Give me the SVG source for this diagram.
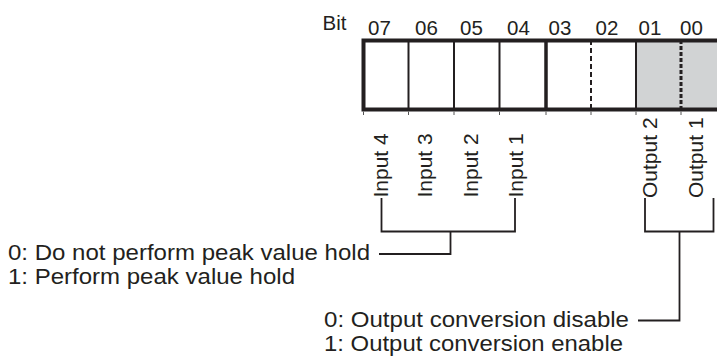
<svg xmlns="http://www.w3.org/2000/svg" width="717" height="358" viewBox="0 0 717 358">
<style>
text{font-family:"Liberation Sans",Arial,Helvetica,sans-serif;fill:#231f20}
.bit{font-size:20.5px;text-anchor:middle}
.lbl{font-size:20.5px}
.rot{font-size:21px}
.desc{font-size:21.5px}
.ln{fill:none;stroke:#231f20;stroke-width:1.8}
.div{stroke:#231f20;stroke-width:2}
.tick{stroke:#555;stroke-width:1}
</style>
<rect width="717" height="358" fill="#fff"/>
<g id="register">
<rect x="636" y="40.5" width="100" height="69" fill="#d1d3d4"/>
<line class="div" x1="408.5" y1="40" x2="408.5" y2="110"/>
<line class="div" x1="454" y1="40" x2="454" y2="110"/>
<line class="div" x1="499.5" y1="40" x2="499.5" y2="110"/>
<line class="div" x1="546" y1="40" x2="546" y2="110" style="stroke-width:3.5"/>
<line class="div" x1="591" y1="40" x2="591" y2="110" style="stroke-dasharray:5 3"/>
<line class="div" x1="636" y1="40" x2="636" y2="110"/>
<line class="div" x1="681" y1="40" x2="681" y2="110" style="stroke-width:3;stroke-dasharray:4 2"/>
<rect x="363.5" y="40.5" width="380" height="69" fill="none" stroke="#231f20" stroke-width="4"/>
<g class="tick">
<line x1="363.5" y1="111.5" x2="363.5" y2="115"/>
<line x1="408.5" y1="111.5" x2="408.5" y2="115"/>
<line x1="454" y1="111.5" x2="454" y2="115"/>
<line x1="499.5" y1="111.5" x2="499.5" y2="115"/>
<line x1="546" y1="111.5" x2="546" y2="115"/>
<line x1="591" y1="111.5" x2="591" y2="115"/>
<line x1="636" y1="111.5" x2="636" y2="115"/>
<line x1="681" y1="111.5" x2="681" y2="115"/>
</g>
</g>
<g id="bit-labels">
<text x="322.5" y="29.5" class="lbl">Bit</text>
<text x="379.5" y="34.5" class="bit">07</text>
<text x="426.5" y="34.5" class="bit">06</text>
<text x="471.5" y="34.5" class="bit">05</text>
<text x="518.5" y="34.5" class="bit">04</text>
<text x="560" y="34.5" class="bit">03</text>
<text x="607" y="34.5" class="bit">02</text>
<text x="650" y="34.5" class="bit">01</text>
<text x="691.5" y="34.5" class="bit">00</text>
</g>
<g id="input-labels">
<text class="rot" transform="translate(387.5,197.5) rotate(-90)">Input 4</text>
<text class="rot" transform="translate(432,197.5) rotate(-90)">Input 3</text>
<text class="rot" transform="translate(477.5,197.5) rotate(-90)">Input 2</text>
<text class="rot" transform="translate(522.5,197.5) rotate(-90)">Input 1</text>
</g>
<g id="output-labels">
<text class="rot" transform="translate(657,198) rotate(-90)">Output 2</text>
<text class="rot" transform="translate(702.5,198) rotate(-90)">Output 1</text>
</g>
<g id="connectors">
<path class="ln" d="M381.5,198 V231.5 H515 V198 M450.5,231.5 V254 H379"/>
<path class="ln" d="M645,198 V231.5 H713.5 V198 M679.5,231.5 V320.5 H638"/>
</g>
<g id="peak-hold-note">
<text x="8" y="260" class="desc" textLength="362" lengthAdjust="spacingAndGlyphs">0: Do not perform peak value hold</text>
<text x="8" y="284" class="desc" textLength="287" lengthAdjust="spacingAndGlyphs">1: Perform peak value hold</text>
</g>
<g id="output-conversion-note">
<text x="324" y="327" class="desc" textLength="305" lengthAdjust="spacingAndGlyphs">0: Output conversion disable</text>
<text x="324" y="351" class="desc" textLength="299" lengthAdjust="spacingAndGlyphs">1: Output conversion enable</text>
</g>
</svg>
